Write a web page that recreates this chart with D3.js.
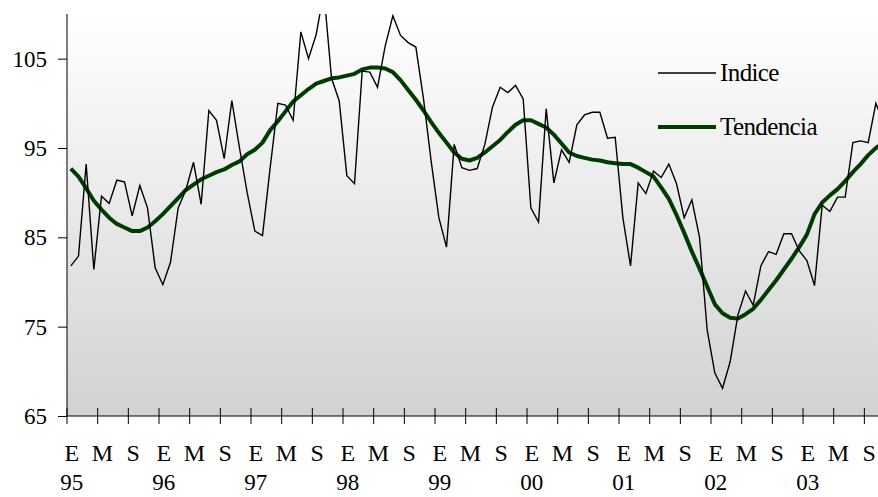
<!DOCTYPE html>
<html>
<head>
<meta charset="utf-8">
<script src="https://cdn.jsdelivr.net/npm/d3@7"></script>
<style>
  html, body { margin: 0; padding: 0; background: #ffffff; }
  svg { display: block; }
  text { font-family: "Liberation Serif", "Times New Roman", serif; fill: #000; }
</style>
</head>
<body>
<svg id="chart" width="878" height="497"></svg>
<script>
// Monthly series, Jan 1995 onwards
const startYear = 1995;
const indice = [
  81.8, 82.9, 93.2, 81.4, 89.6, 88.8, 91.4, 91.2, 87.4, 90.8, 88.3, 81.6,
  79.7, 82.2, 88.3, 90.3, 93.4, 88.7, 99.2, 98.1, 93.8, 100.3, 95.0, 90.0,
  85.7, 85.2, 92.8, 100.0, 99.8, 98.1, 108.0, 105.0, 107.7, 112.5, 102.8, 100.3,
  91.9, 91.0, 103.6, 103.5, 101.8, 106.4, 109.8, 107.6, 106.8, 106.3, 100.5, 93.5,
  87.2, 83.9, 95.4, 92.8, 92.5, 92.7, 95.4, 99.6, 101.8, 101.2, 102.0, 100.5,
  88.3, 86.7, 99.4, 91.1, 94.8, 93.4, 97.6, 98.7, 99.0, 99.0, 96.1, 96.2,
  87.2, 81.8, 91.1, 89.9, 92.4, 91.7, 93.2, 91.0, 87.2, 89.2, 85.0, 74.6,
  69.8, 68.1, 71.1, 76.3, 79.0, 77.4, 81.8, 83.4, 83.1, 85.4, 85.4, 83.5,
  82.4, 79.6, 88.6, 87.9, 89.5, 89.5, 95.6, 95.8, 95.6, 100.0, 97.8
];
const tendencia = [
  92.7, 91.8, 90.5, 89.1, 88.1, 87.2, 86.5, 86.1, 85.7, 85.7, 86.1, 86.8,
  87.6, 88.5, 89.4, 90.3, 90.9, 91.5, 91.9, 92.3, 92.6, 93.1, 93.5, 94.3,
  94.8, 95.6, 97.0, 98.0, 99.1, 100.2, 100.9, 101.6, 102.2, 102.5, 102.8, 102.9,
  103.1, 103.3, 103.8, 104.0, 104.0, 103.9, 103.5, 102.6, 101.5, 100.4, 99.2, 97.9,
  96.7, 95.6, 94.5, 93.8, 93.6, 93.9, 94.5, 95.2, 95.9, 96.8, 97.6, 98.1,
  98.1, 97.7, 97.3, 96.5, 95.5, 94.5, 94.1, 93.9, 93.7, 93.6, 93.4, 93.3,
  93.2, 93.2, 92.8, 92.3, 91.8, 90.6, 89.3, 87.5, 85.5, 83.4, 81.5, 79.5,
  77.5, 76.5, 76.0, 75.9, 76.4, 77.0, 78.0, 79.1, 80.2, 81.4, 82.6, 83.9,
  85.3, 87.6, 88.9, 89.7, 90.4, 91.3, 92.3, 93.2, 94.2, 95.0, 95.6
];
const monthLabels = ["E", "M", "S"];          // Enero, Mayo, Septiembre
const yearLabels = ["95", "96", "97", "98", "99", "00", "01", "02", "03"];
const yTicks = [65, 75, 85, 95, 105];
const seriesNames = ["Indice", "Tendencia"];

(function () {
const svg = d3.select("#chart");
const W = 878;
const mLeft = 67, mTop = 14, mBottom = 416;
const monthW = 7.667;
const nMonths = yearLabels.length * 12;

const x = d3.scaleLinear().domain([0, nMonths]).range([mLeft, mLeft + nMonths * monthW]);
const y = d3.scaleLinear().domain([65, 110]).range([mBottom, mTop]);

// gradient background
const defs = svg.append("defs");
const grad = defs.append("linearGradient").attr("id", "bg")
  .attr("x1", 0).attr("y1", 0).attr("x2", 0).attr("y2", 1);
grad.append("stop").attr("offset", "0%").attr("stop-color", "#ffffff");
grad.append("stop").attr("offset", "100%").attr("stop-color", "#d2d2d2");
defs.append("clipPath").attr("id", "plotclip").append("rect")
  .attr("x", mLeft).attr("y", mTop).attr("width", W - mLeft).attr("height", mBottom - mTop);

svg.append("rect").attr("x", mLeft).attr("y", mTop)
  .attr("width", W - mLeft).attr("height", mBottom - mTop)
  .attr("fill", "url(#bg)");

// lines
const line = d3.line().x((d, i) => x(i + 0.5)).y(d => y(d));
const g = svg.append("g").attr("clip-path", "url(#plotclip)");
g.append("path").datum(tendencia).attr("d", line)
  .attr("fill", "none").attr("stroke", "#003b00").attr("stroke-width", 4)
  .attr("stroke-linejoin", "round");
g.append("path").datum(indice).attr("d", line)
  .attr("fill", "none").attr("stroke", "#000").attr("stroke-width", 1.4)
  .attr("stroke-linejoin", "miter");

// y axis
const yAxis = d3.axisLeft(y).tickValues(yTicks).tickSize(9).tickPadding(11)
  .tickFormat(d3.format("d"));
const ya = svg.append("g").attr("transform", `translate(${mLeft},0)`).call(yAxis);
ya.select(".domain").attr("d", `M0,${mTop}V${mBottom}`).attr("stroke", "#000");
ya.selectAll(".tick line").attr("stroke", "#000");
ya.selectAll(".tick text").attr("font-size", 23)
  .style("font-family", "'Liberation Serif', serif").attr("fill", "#000");

// x axis line and ticks every 4 months
const tickMonths = d3.range(0, nMonths + 1, 4);
svg.append("line").attr("x1", mLeft).attr("x2", W).attr("y1", mBottom).attr("y2", mBottom)
  .attr("stroke", "#000");
svg.append("g").selectAll("line").data(tickMonths).join("line")
  .attr("x1", d => x(d)).attr("x2", d => x(d))
  .attr("y1", mBottom - 8).attr("y2", mBottom + 8)
  .attr("stroke", "#000");

// month labels
svg.append("g").selectAll("text").data(d3.range(0, nMonths, 4)).join("text")
  .attr("x", d => x(d + 0.5) + 1).attr("y", 461)
  .attr("text-anchor", "middle").attr("font-size", 24)
  .text(d => monthLabels[(d % 12) / 4]);
// year labels
svg.append("g").selectAll("text").data(yearLabels).join("text")
  .attr("x", (d, i) => x(i * 12 + 0.5) + 1).attr("y", 490)
  .attr("text-anchor", "middle").attr("font-size", 23)
  .text(d => d);

// legend
const legend = svg.append("g");
const legendY = [73, 127];
legend.selectAll("line").data(seriesNames).join("line")
  .attr("x1", 658).attr("x2", 716)
  .attr("y1", (d, i) => legendY[i]).attr("y2", (d, i) => legendY[i])
  .attr("stroke", (d, i) => i === 0 ? "#000" : "#003b00")
  .attr("stroke-width", (d, i) => i === 0 ? 1.4 : 4);
legend.selectAll("text").data(seriesNames).join("text")
  .attr("x", 720).attr("y", (d, i) => legendY[i] + 8)
  .attr("font-size", 25).attr("letter-spacing", -0.6)
  .text(d => d);
})();
</script>
</body>
</html>
